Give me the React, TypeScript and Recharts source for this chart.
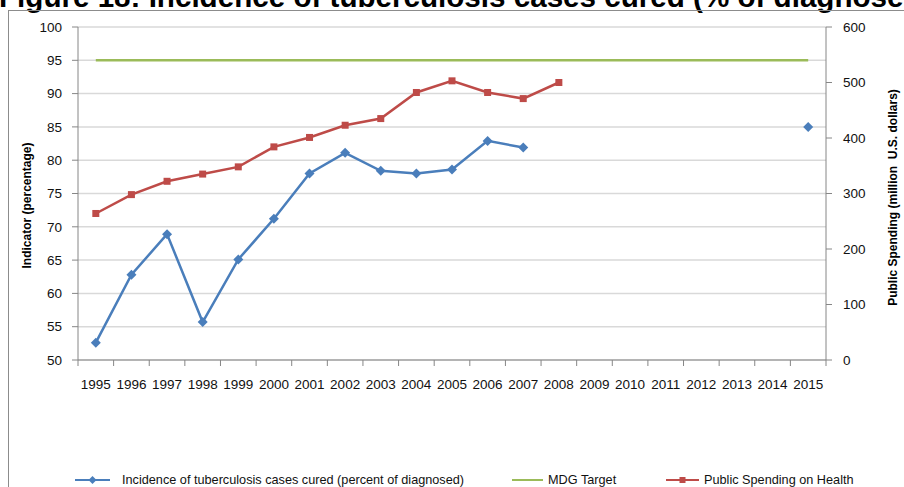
import React from 'react';
import { ComposedChart, Line, XAxis, YAxis, CartesianGrid, Legend } from 'recharts';

const years = ['1995', '1996', '1997', '1998', '1999', '2000', '2001', '2002', '2003', '2004', '2005', '2006', '2007', '2008', '2009', '2010', '2011', '2012', '2013', '2014', '2015'];
const curedPct: (number | null)[] = [52.6, 62.8, 68.9, 55.7, 65.1, 71.2, 78.0, 81.1, 78.4, 78.0, 78.6, 82.9, 81.9, null, null, null, null, null, null, null, 85.0];
const mdgTarget: (number | null)[] = [95, 95, 95, 95, 95, 95, 95, 95, 95, 95, 95, 95, 95, 95, 95, 95, 95, 95, 95, 95, 95];
const publicSpending: (number | null)[] = [264, 298, 322, 335, 348, 384, 401, 423, 435, 482, 503, 482, 471, 500, null, null, null, null, null, null, null];
const leftTicks = [50, 55, 60, 65, 70, 75, 80, 85, 90, 95, 100];
const rightTicks = [0, 100, 200, 300, 400, 500, 600];

const TITLE = 'Figure 18: Incidence of tuberculosis cases cured (% of diagnosed)';
const LABEL_CURED = 'Incidence of tuberculosis cases cured (percent of diagnosed)';
const LABEL_MDG = 'MDG Target';
const LABEL_SPEND = 'Public Spending on Health';
const LEFT_TITLE = 'Indicator (percentage)';
const RIGHT_TITLE = 'Public Spending (million  U.S. dollars)';

const data = years.map((y, i) => ({
  year: y,
  cured: curedPct[i],
  mdg: mdgTarget[i],
  spending: publicSpending[i],
}));

const W = 904;
const H = 487;
const AXIS_W = 70;
const MARGIN = { top: 27, right: 8, bottom: 97, left: 8 };
const PLOT_W = W - MARGIN.left - MARGIN.right - 2 * AXIS_W;
const BAND = PLOT_W / years.length;
const BLUE = '#4A7EBB';
const RED = '#BE4B48';
const GREEN = '#9BBB59';
const AXIS = '#868686';
const GRID = '#D9D9D9';
const FONT = '"Liberation Sans", Arial, sans-serif';

const Diamond = (props: any) => {
  const { cx, cy, fill } = props;
  if (cx == null || cy == null || isNaN(cy)) return null;
  const r = 5;
  return <path d={`M${cx},${cy - r}L${cx + r},${cy}L${cx},${cy + r}L${cx - r},${cy}Z`} fill={fill} />;
};
const Square = (props: any) => {
  const { cx, cy, fill } = props;
  if (cx == null || cy == null || isNaN(cy)) return null;
  const s = 7;
  return <rect x={cx - s / 2} y={cy - s / 2} width={s} height={s} fill={fill} />;
};

const XTick = (props: any) => {
  const { x, y, payload, index } = props;
  return (
    <g>
      <line x1={x - BAND / 2} x2={x - BAND / 2} y1={y} y2={y + 6} stroke={AXIS} />
      {index === years.length - 1 && <line x1={x + BAND / 2} x2={x + BAND / 2} y1={y} y2={y + 6} stroke={AXIS} />}
      <text x={x} y={y + 19} dy="0.71em" textAnchor="middle" fontSize={13.5} fontFamily={FONT} fill="#111">
        {payload.value}
      </text>
    </g>
  );
};

const AxisTitle = (props: any) => {
  const { viewBox, value, side } = props;
  const { x, y, width, height } = viewBox;
  const cx = side === 'left' ? x + 19 : x + width - 3;
  const cy = y + height / 2 + (side === 'left' ? 12 : 4);
  return (
    <text
      x={cx}
      y={cy}
      transform={`rotate(-90 ${cx} ${cy})`}
      textAnchor="middle"
      dominantBaseline="central"
      fontSize={12}
      fontWeight="bold"
      fontFamily={FONT}
      fill="#000"
      style={{ whiteSpace: 'pre' }}
    >
      {value}
    </text>
  );
};

const LegendContent = () => {
  const items = [
    { label: LABEL_CURED, color: BLUE, marker: 'diamond', left: 75, iconW: 35, gap: 12 },
    { label: LABEL_MDG, color: GREEN, marker: 'none', left: 512, iconW: 31, gap: 5 },
    { label: LABEL_SPEND, color: RED, marker: 'square', left: 666, iconW: 33, gap: 5 },
  ];
  return (
    <div style={{ position: 'relative', width: W, height: 18 }}>
      {items.map((it) => (
        <div key={it.label} style={{ position: 'absolute', left: it.left, top: 0, display: 'flex', alignItems: 'center', height: 18 }}>
          <svg width={it.iconW} height={12} style={{ marginRight: it.gap }}>
            <line x1={0} x2={it.iconW} y1={6} y2={6} stroke={it.color} strokeWidth={2} />
            {it.marker === 'diamond' && <path d={`M${it.iconW / 2},2L${it.iconW / 2 + 4},6L${it.iconW / 2},10L${it.iconW / 2 - 4},6Z`} fill={it.color} />}
            {it.marker === 'square' && <rect x={it.iconW / 2 - 3} y={3} width={6} height={6} fill={it.color} />}
          </svg>
          <span style={{ fontFamily: FONT, fontSize: 12.7, color: '#111', whiteSpace: 'nowrap' }}>{it.label}</span>
        </div>
      ))}
    </div>
  );
};

export default function App() {
  return (
    <div style={{ position: 'relative', width: W, height: H, overflow: 'hidden', background: '#fff' }}>
      <style>{'html,body{margin:0;padding:0;overflow:hidden;}'}</style>
      <div
        style={{
          position: 'absolute',
          left: -1,
          top: -18,
          fontFamily: FONT,
          fontWeight: 'bold',
          fontSize: 29.6,
          lineHeight: '29px',
          whiteSpace: 'nowrap',
          color: '#000',
        }}
      >
        {TITLE}
      </div>
      <div style={{ position: 'absolute', left: 8, top: 10, width: 1000, height: 600, border: '1px solid #8c8c8c', boxSizing: 'border-box' }} />
      <div style={{ position: 'absolute', left: 0, top: 0 }}>
        <ComposedChart width={W} height={H} data={data} margin={MARGIN}>
          <CartesianGrid yAxisId="left" vertical={false} stroke={GRID} strokeWidth={1.5} />
          <XAxis
            dataKey="year"
            tick={<XTick />}
            tickLine={false}
            tickSize={0}
            tickMargin={0}
            interval={0}
            height={30}
            padding={{ left: BAND / 2, right: BAND / 2 }}
            axisLine={{ stroke: AXIS }}
          />
          <YAxis
            yAxisId="left"
            domain={[50, 100]}
            ticks={leftTicks}
            interval={0}
            width={AXIS_W}
            tickSize={6}
            tickMargin={10}
            axisLine={{ stroke: AXIS }}
            tickLine={{ stroke: AXIS }}
            tick={{ fontSize: 13.5, fontFamily: FONT, fill: '#111' }}
            label={<AxisTitle value={LEFT_TITLE} side="left" />}
          />
          <YAxis
            yAxisId="right"
            orientation="right"
            domain={[0, 600]}
            ticks={rightTicks}
            interval={0}
            width={AXIS_W}
            tickSize={6}
            tickMargin={11}
            axisLine={{ stroke: AXIS }}
            tickLine={{ stroke: AXIS }}
            tick={{ fontSize: 13.5, fontFamily: FONT, fill: '#111' }}
            label={<AxisTitle value={RIGHT_TITLE} side="right" />}
          />
          <Legend
            verticalAlign="middle"
            align="center"
            layout="horizontal"
            content={<LegendContent />}
            wrapperStyle={{ top: 471, left: 0, width: W, height: 18 }}
          />
          <Line
            yAxisId="left"
            dataKey="mdg"
            stroke={GREEN}
            strokeWidth={2.5}
            dot={false}
            isAnimationActive={false}
            legendType="none"
          />
          <Line
            yAxisId="right"
            dataKey="spending"
            stroke={RED}
            strokeWidth={2.5}
            dot={<Square fill={RED} />}
            activeDot={false}
            isAnimationActive={false}
          />
          <Line
            yAxisId="left"
            dataKey="cured"
            stroke={BLUE}
            strokeWidth={2.5}
            dot={<Diamond fill={BLUE} />}
            activeDot={false}
            isAnimationActive={false}
          />
        </ComposedChart>
      </div>
    </div>
  );
}
